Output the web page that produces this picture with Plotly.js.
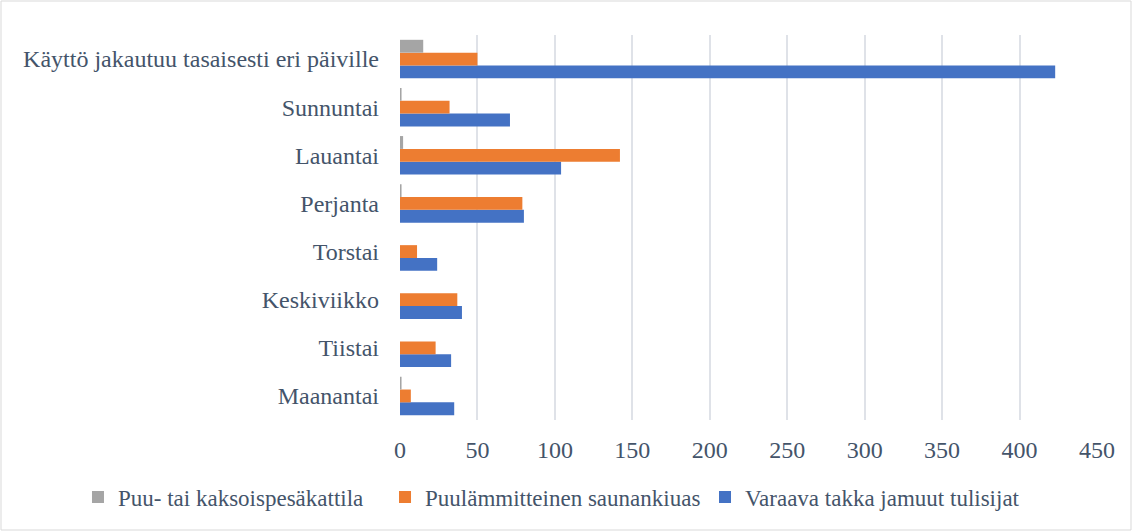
<!DOCTYPE html>
<html><head><meta charset="utf-8">
<script src="https://cdn.plot.ly/plotly-3.0.1.min.js"></script>
<style>html,body{margin:0;padding:0;background:#fff}#c{width:1132px;height:531px}</style>
</head><body><div id="c"></div>
<script>
const categories = ["Maanantai","Tiistai","Keskiviikko","Torstai","Perjanta","Lauantai","Sunnuntai","Käyttö jakautuu tasaisesti eri päiville"];
const seriesNames = ["Varaava takka jamuut tulisijat","Puulämmitteinen saunankiuas","Puu- tai kaksoispesäkattila"];
const varaava = [35, 33, 40, 24, 80, 104, 71, 423];
const sauna = [7, 23, 37, 11, 79, 142, 32, 50];
const kattila = [1, 0, 0, 0, 1, 2, 1, 15];
const tickVals = [0,50,100,150,200,250,300,350,400,450];

const colors = ["#4472c4","#ed7d31","#a5a5a5"];
const legendIds = ["legend3","legend2","legend"];
const vals = [varaava, sauna, kattila];
const traces = vals.map((v,i)=>({
  type:"bar", orientation:"h", name:seriesNames[i], y:categories, x:v,
  marker:{color:colors[i]}, hoverinfo:"x+y", legend:legendIds[i]
}));
const fam = "Liberation Serif, serif";
const tc = "#44546a";
function leg(x){
  return {orientation:"h", x:x, xanchor:"left", y:-0.2, yanchor:"middle",
    font:{size:23, family:fam, color:tc}, itemwidth:30, bgcolor:"rgba(0,0,0,0)"};
}
Plotly.newPlot("c", traces, {
  width:1132, height:531,
  margin:{l:400, r:35, t:35, b:111},
  barmode:"group", bargap:0.2, bargroupgap:0,
  paper_bgcolor:"#fff", plot_bgcolor:"#fff",
  font:{family:fam, color:tc},
  xaxis:{range:[0,450], tickvals:tickVals, showgrid:true, gridcolor:"#dfe2e8", gridwidth:2,
    zeroline:false, showline:false, ticks:"", ticklabelstandoff:13, tickfont:{size:24, family:fam, color:tc}},
  yaxis:{type:"category", categoryorder:"array", categoryarray:categories, showgrid:false, zeroline:false,
    ticks:"", ticklabelstandoff:20, tickfont:{size:24, family:fam, color:tc}, automargin:false},
  legend:leg(-0.462),
  legend2:leg(-0.0215),
  legend3:leg(0.4376),
  showlegend:true,
  shapes:[{type:"rect", xref:"paper", yref:"paper", x0:-399/697, x1:1+34/697, y0:-110/385, y1:1+34/385,
    line:{color:"#d9d9d9", width:1}, fillcolor:"rgba(0,0,0,0)"}]
}, {displayModeBar:false, staticPlot:true});
</script></body></html>
